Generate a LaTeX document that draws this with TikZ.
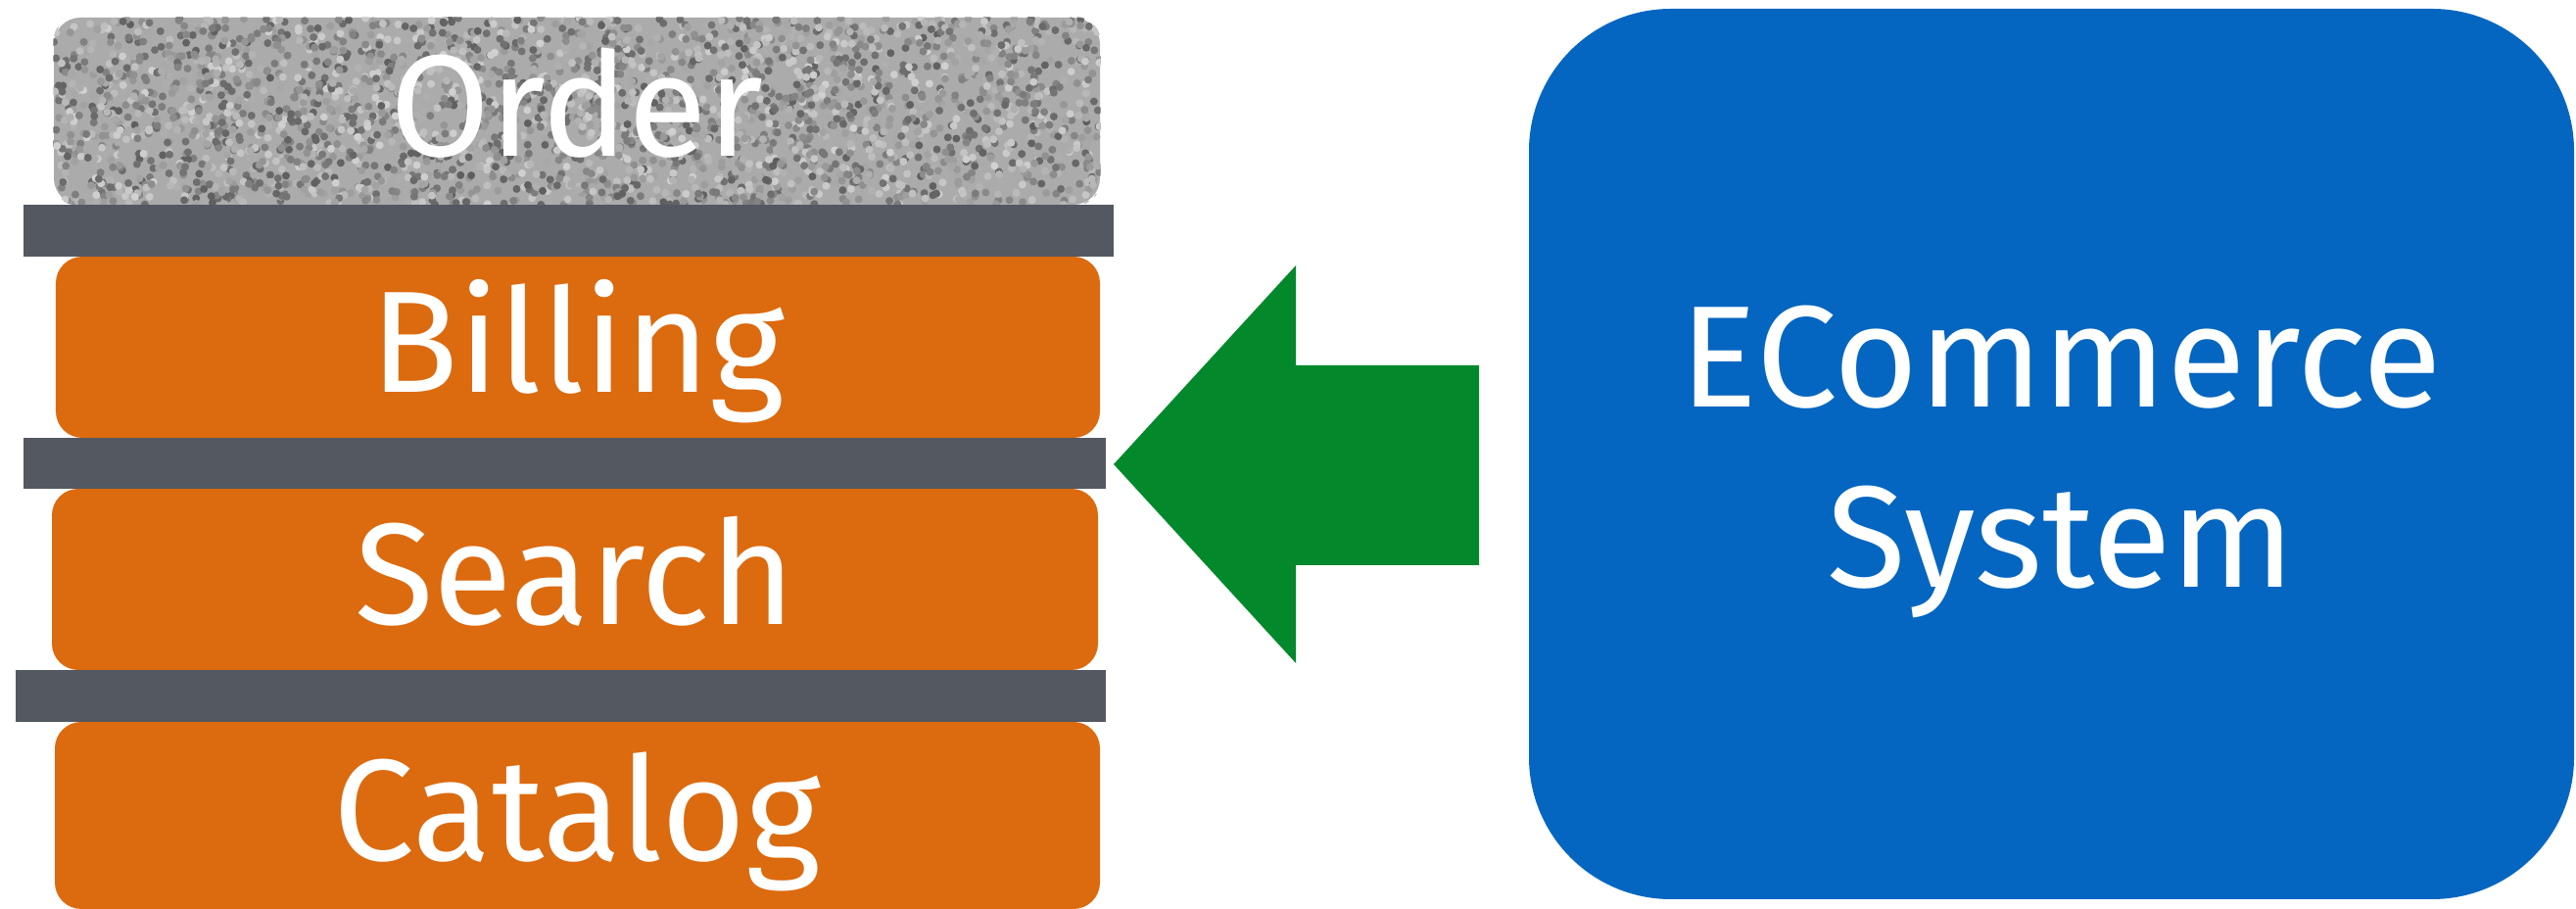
\documentclass[tikz,border=0pt]{standalone}
\usepackage{fontspec}
\setmainfont{Fira Sans}
\definecolor{arancio}{HTML}{DC6A0F}
\definecolor{grigioscuro}{HTML}{535861}
\definecolor{grigiochiaro}{HTML}{ABABAB}
\definecolor{verde}{HTML}{03892C}
\definecolor{blu}{HTML}{0466C0}

\begin{document}
\begin{tikzpicture}[
    livello/.style={fill=arancio, rounded corners=0.27cm, minimum width=10.67cm,
        minimum height=1.85cm, inner sep=0pt, text=white,
        font=\fontsize{42}{50}\selectfont, text height=29.6pt, text depth=3.2pt},
    barra/.style={fill=grigioscuro, minimum height=0.53cm, inner sep=0pt}
]
    \useasboundingbox (0,0) rectangle (26.3,-9.28);

    % Livello Order (texture grigia)
    \node[livello, fill=grigiochiaro, minimum width=10.68cm, minimum height=1.91cm] (order) at (5.89,-1.135) {};
    \begin{scope}
        \pgfmathsetseed{7}
        \clip[rounded corners=0.25cm] (order.south west) rectangle (order.north east);
        \foreach \i in {1,...,3000} {
            \pgfmathsetmacro{\px}{0.55+10.68*rnd}
            \pgfmathsetmacro{\py}{-0.18-1.91*rnd}
            \pgfmathsetmacro{\pk}{18+45*rnd}
            \fill[black!\pk] (\px,\py) circle (0.04);
        }
    \end{scope}
    \node[livello, fill=none] (ordertxt) at (order.center) {Order};

    % Livelli arancioni
    \node[livello, minimum width=10.66cm] (billing) at (5.90,-3.545) {Billing};
    \node[livello, minimum width=10.68cm] (search) at (5.87,-5.915) {Search};
    \node[livello, minimum height=1.91cm] (catalog) at (5.895,-8.325) {Catalog};

    % Barre di separazione
    \node[barra, minimum width=11.13cm] (barra1) at (5.805,-2.355) {};
    \node[barra, minimum width=11.05cm, minimum height=0.52cm] (barra2) at (5.765,-4.73) {};
    \node[barra, minimum width=11.13cm] (barra3) at (5.725,-7.105) {};

    % Freccia
    \fill[verde] (11.37,-4.74) -- (13.23,-2.71) -- (13.23,-3.73) -- (15.10,-3.73)
        -- (15.10,-5.77) -- (13.23,-5.77) -- (13.23,-6.77) -- cycle;

    % Sistema ECommerce
    \node[fill=blu, rounded corners=1.45cm, minimum width=10.67cm, minimum height=9.09cm,
        inner sep=0pt] (sistema) at (20.945,-4.635) {};
    \node[text=white, align=center, font=\fontsize{42}{52.4}\selectfont]
        (sistematxt) at ([xshift=0.1cm, yshift=-0.08cm]sistema.center) {ECommerce\\System};
\end{tikzpicture}
\end{document}
